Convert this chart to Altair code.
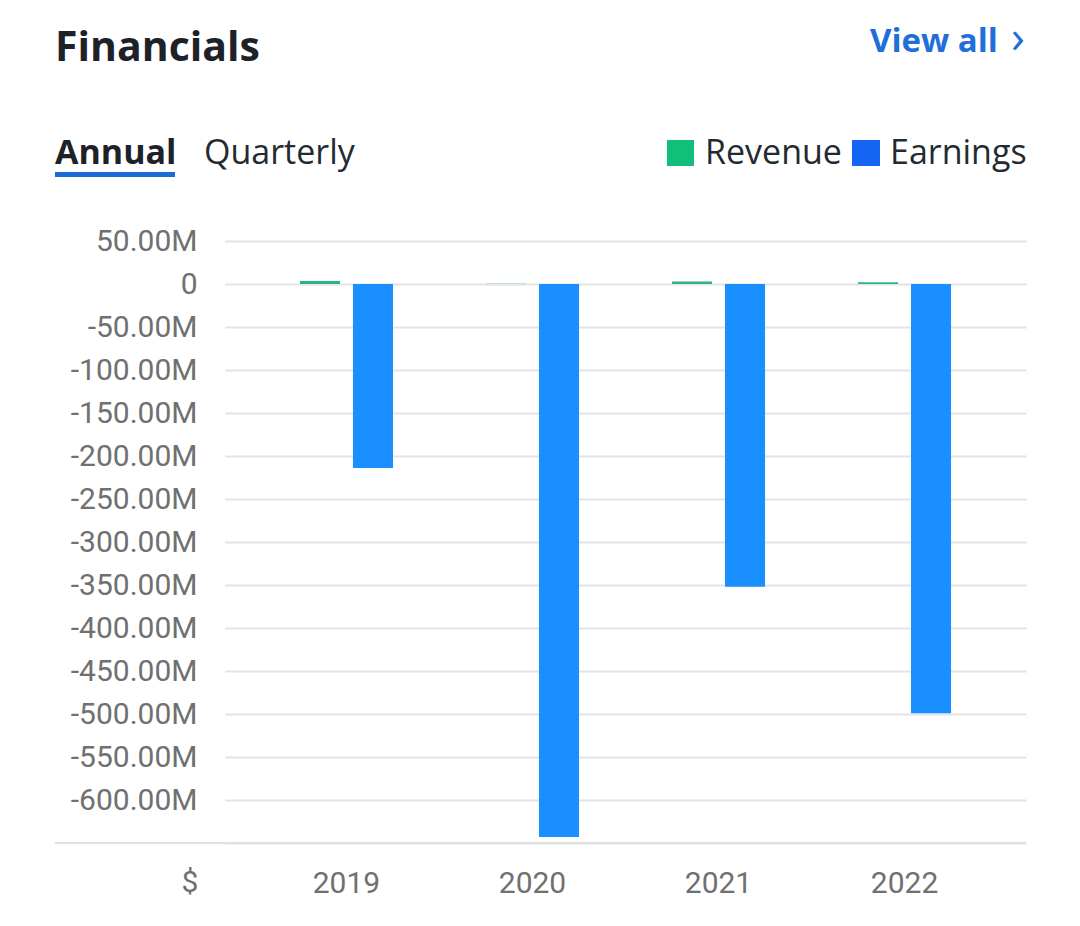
import altair as alt
import pandas as pd

years = ["2019", "2020", "2021", "2022"]
revenue = [3.5, 0.3, 3.0, 2.0]          # millions USD
earnings = [-214, -643, -352, -499]     # millions USD
series = ["Revenue", "Earnings"]
bar_colors = ["#2db580", "#1a8fff"]
legend_colors = ["#10c078", "#1565f5"]
y_ticks = list(range(-650, 51, 50))

rows = []
for yr, r, e in zip(years, revenue, earnings):
    rows.append({"year": yr, "series": "Revenue", "value": r})
    rows.append({"year": yr, "series": "Earnings", "value": e})
df = pd.DataFrame(rows)

W, H = 801, 602
FONT = "Open Sans"
LABEL_FONT = "Roboto"

bars = alt.Chart(df).mark_bar().encode(
    x=alt.X("year:N", sort=years, title=None,
            scale=alt.Scale(paddingInner=0, paddingOuter=0.153),
            axis=alt.Axis(labelAngle=0, domain=False, ticks=False, labelPadding=25,
                          labelFont=LABEL_FONT, labelFontSize=30, labelColor="#707070")),
    xOffset=alt.XOffset("series:N", sort=series,
                        scale=alt.Scale(paddingInner=0.245, paddingOuter=0.877)),
    y=alt.Y("value:Q", title=None,
            scale=alt.Scale(domain=[-650, 50], nice=False, zero=False),
            axis=alt.Axis(values=y_ticks, domain=False, ticks=False, labelPadding=28,
                          gridColor="#e2e4e6", gridWidth=2,
                          labelFont=LABEL_FONT, labelFontSize=30, labelColor="#707070",
                          labelExpr="datum.value == -650 ? '' : (datum.value == 0 ? '0' : (datum.value < 0 ? '-' : '') + format(abs(datum.value), '.2f') + 'M')")),
    color=alt.Color("series:N", scale=alt.Scale(domain=series, range=bar_colors), legend=None),
)

one = alt.Data(values=[{}])

def txt(text, x, y, size, color, weight="normal", font=FONT, align="left"):
    return alt.Chart(one).mark_text(
        text=text, align=align, baseline="alphabetic", fontSize=size,
        fontWeight=weight, font=font, color=color
    ).encode(x=alt.value(x), y=alt.value(y))

bottom_line = alt.Chart(one).mark_rule(color="#dfe2e4", strokeWidth=2).encode(
    x=alt.value(-170), x2=alt.value(W), y=alt.value(H))

underline = alt.Chart(one).mark_rule(color="#1a6bd6", strokeWidth=5).encode(
    x=alt.value(-170), x2=alt.value(-50), y=alt.value(-66.5))

sq_rev = alt.Chart(one).mark_rect(color=legend_colors[0]).encode(
    x=alt.value(442), x2=alt.value(469), y=alt.value(-101), y2=alt.value(-75))
sq_earn = alt.Chart(one).mark_rect(color=legend_colors[1]).encode(
    x=alt.value(627), x2=alt.value(655), y=alt.value(-101), y2=alt.value(-75))

layers = [
    bars,
    bottom_line,
    txt("Financials", -170, -180, 41, "#1d2228", weight="bold"),
    txt("View all", 645, -189, 33, "#1e6fd9", weight="bold"),
    txt("›", 786, -188, 46, "#1e6fd9", weight="normal"),
    txt("Annual", -170, -77, 34, "#1d2228", weight="bold"),
    underline,
    txt("Quarterly", -21, -77, 34, "#232a31"),
    sq_rev,
    txt("Revenue", 480, -77, 34, "#232a31"),
    sq_earn,
    txt("Earnings", 665, -77, 34, "#232a31"),
    txt("$", -35, 651, 30, "#707070", font=LABEL_FONT, align="center"),
]

chart = alt.layer(*layers).properties(
    width=W, height=H,
    autosize=alt.AutoSizeParams(type="none"),
    padding={"left": 225, "top": 241, "right": 54, "bottom": 83},
    background="white",
).configure_view(strokeWidth=0)

chart.save("out.html", embed_options={"renderer": "svg", "actions": False})
